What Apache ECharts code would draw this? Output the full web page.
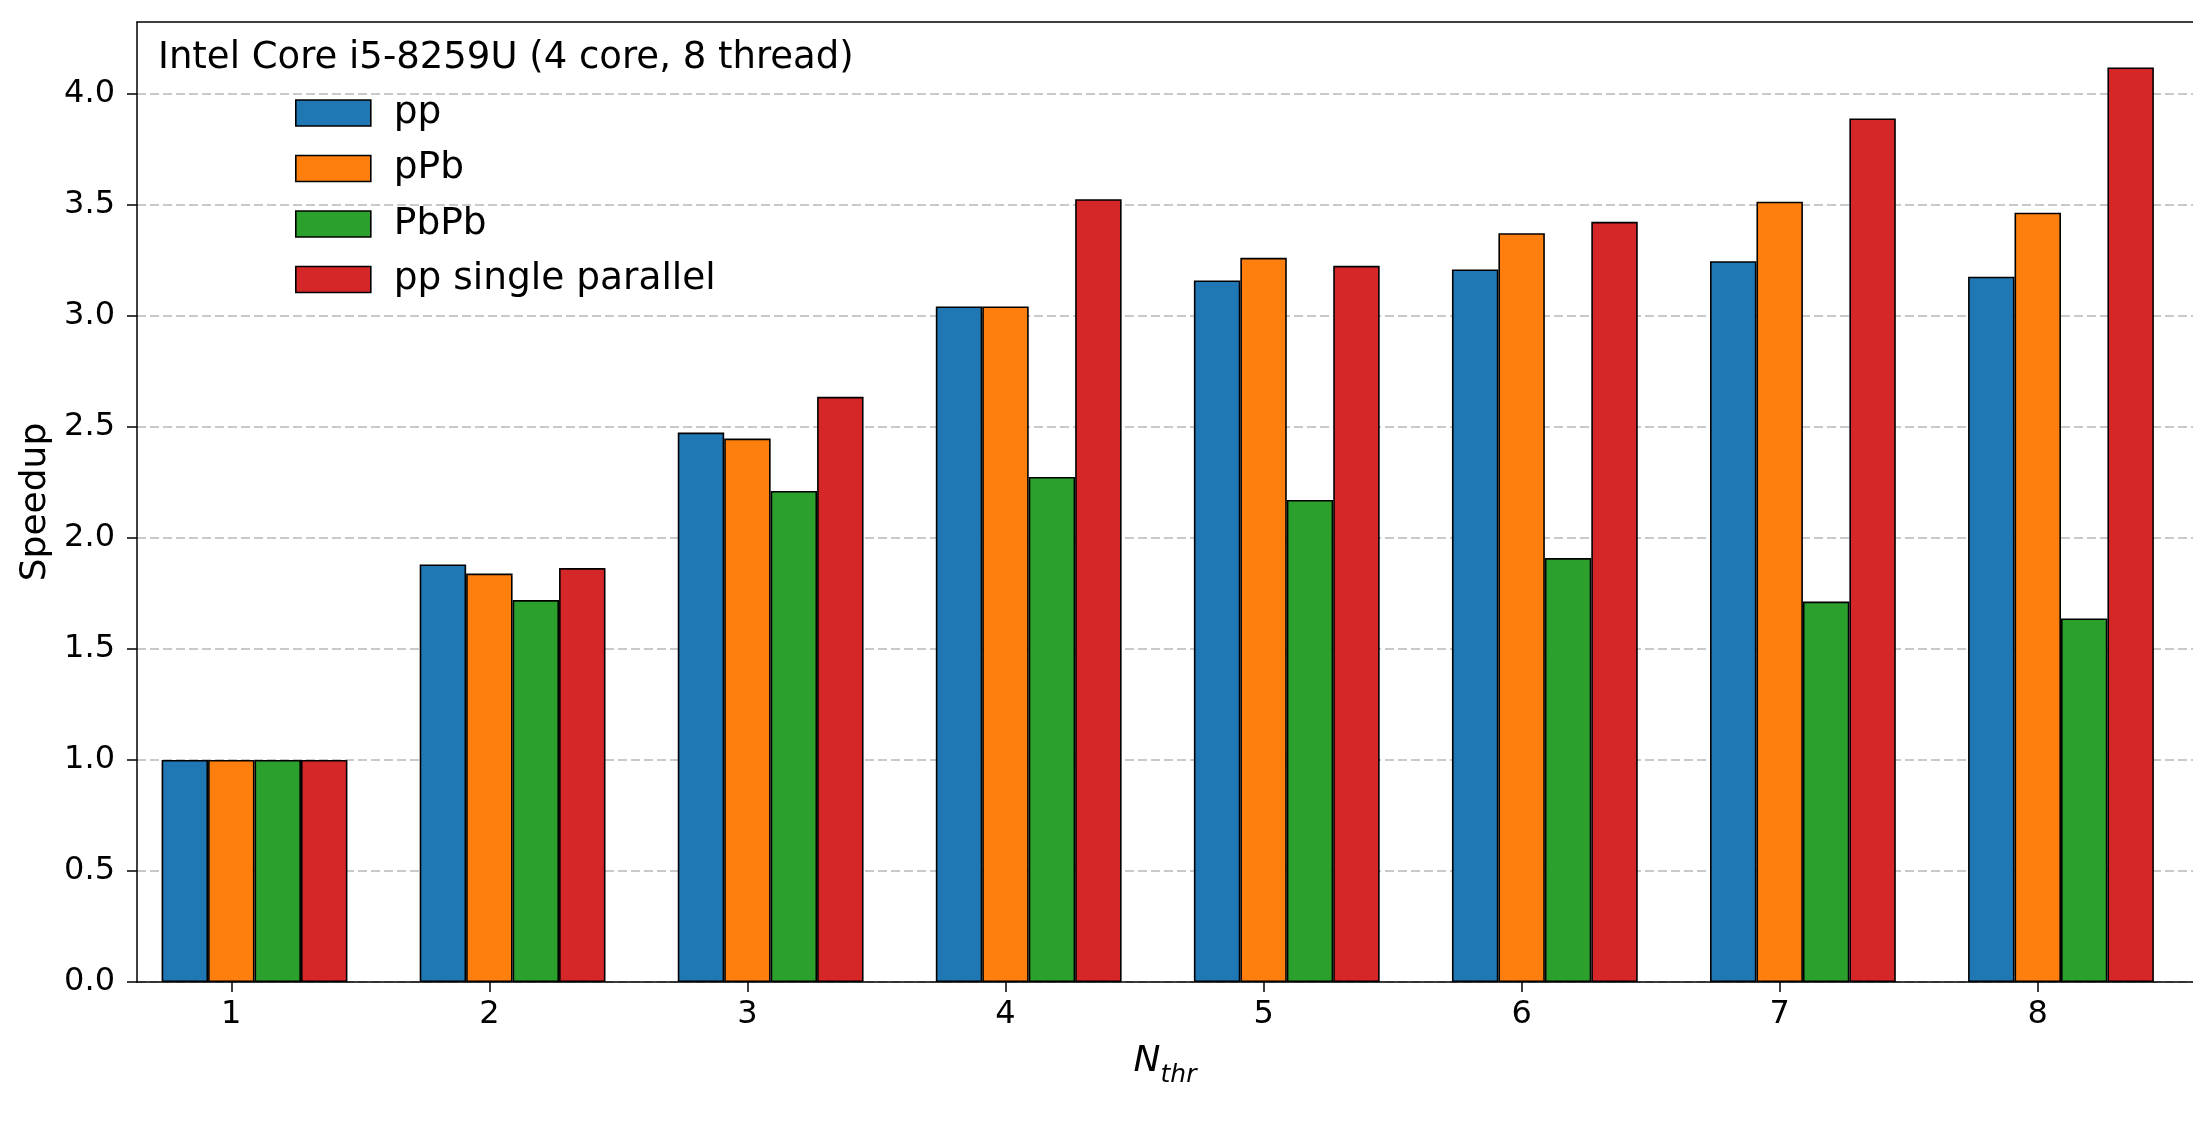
<!DOCTYPE html>
<html>
<head>
<meta charset="utf-8">
<script src="https://cdn.jsdelivr.net/npm/echarts@6/dist/echarts.min.js"></script>
<style>
html,body{margin:0;padding:0;background:#fff;}
#chart{width:2193px;height:1125px;}
</style>
</head>
<body>
<div id="chart"></div>
<script>
// ---- data ----
const THREADS = [1, 2, 3, 4, 5, 6, 7, 8];
const SERIES_NAMES = ['pp', 'pPb', 'PbPb', 'pp single parallel'];
const PP      = [1.0, 1.880, 2.474, 3.042, 3.159, 3.209, 3.246, 3.176];
const PPB     = [1.0, 1.839, 2.447, 3.042, 3.261, 3.372, 3.514, 3.464];
const PBPB    = [1.0, 1.720, 2.211, 2.274, 2.171, 1.909, 1.713, 1.637];
const PP_SP   = [1.0, 1.864, 2.635, 3.525, 3.225, 3.423, 3.889, 4.118];
const Y_TICKS = [0, 0.5, 1.0, 1.5, 2.0, 2.5, 3.0, 3.5, 4.0];
const X_TICKS = THREADS;
const TITLE_TEXT = 'Intel Core i5-8259U (4 core, 8 thread)';

// ---- style ----
const COLORS = ['#1f77b4', '#ff7f0e', '#2ca02c', '#d62728'];
const FONT = 'DejaVu Sans';
const BAR_W = 0.18;              // bar width in axis units
const GROUP_SHIFT = BAR_W / 2;   // 2nd bar centred on the tick (matplotlib offsets)
const X_MIN = 0.6346, X_MAX = 8.6016;
const Y_MIN = 0, Y_MAX = 4.323;

const allValues = [PP, PPB, PBPB, PP_SP];

const series = allValues.map((vals, i) => ({
  name: SERIES_NAMES[i],
  type: 'bar',
  xAxisIndex: 0,
  barWidth: (BAR_W * 100) + '%',
  barGap: '0%',
  data: THREADS.map((t, k) => [t + GROUP_SHIFT, vals[k]]),
  itemStyle: { color: COLORS[i], borderColor: '#000', borderWidth: 1.6 },
  emphasis: { disabled: true },
  animation: false
}));

const chart = echarts.init(document.getElementById('chart'), null, { renderer: 'canvas' });
chart.setOption({
  animation: false,
  backgroundColor: '#fff',
  textStyle: { fontFamily: FONT },
  color: COLORS,
  title: {
    text: TITLE_TEXT,
    left: 158, top: 40, padding: 0,
    textStyle: { fontFamily: FONT, fontSize: 37, fontWeight: 'normal', color: '#000' }
  },
  legend: {
    orient: 'vertical',
    left: 295, top: 94, padding: 0,
    itemWidth: 75, itemHeight: 26, itemGap: 17.5,
    icon: 'rect',
    itemStyle: { borderColor: '#000', borderWidth: 1.6 },
    textStyle: { fontFamily: FONT, fontSize: 37.5, lineHeight: 37.5, color: '#000', padding: [0, 0, 0, 18] },
    data: SERIES_NAMES
  },
  grid: { left: 137, right: 0, top: 22, bottom: 143, containLabel: false },
  xAxis: [{
    type: 'value',
    min: X_MIN, max: X_MAX,
    name: '{n|N}{s|thr}',
    nameLocation: 'middle',
    nameGap: 62,
    nameTextStyle: {
      rich: {
        n: { fontFamily: FONT, fontStyle: 'italic', fontSize: 36, color: '#000', verticalAlign: 'bottom' },
        s: { fontFamily: FONT, fontStyle: 'italic', fontSize: 25, color: '#000', verticalAlign: 'bottom', padding: [0, 0, -8, 0] }
      }
    },
    axisLine: { show: true, onZero: false, lineStyle: { color: '#000', width: 1.5 } },
    axisTick: { show: true, customValues: X_TICKS, length: 10, lineStyle: { color: '#000', width: 1.5 } },
    axisLabel: { show: true, customValues: X_TICKS, margin: 17, fontFamily: FONT, fontSize: 32, color: '#000', formatter: v => String(v) },
    splitLine: { show: false }
  }, {
    type: 'value',
    position: 'top',
    min: X_MIN, max: X_MAX,
    axisLine: { show: true, onZero: false, lineStyle: { color: '#000', width: 1.5 } },
    axisTick: { show: false },
    axisLabel: { show: false },
    splitLine: { show: false }
  }],
  yAxis: {
    type: 'value',
    min: Y_MIN, max: Y_MAX,
    interval: 0.5,
    name: 'Speedup',
    nameLocation: 'middle',
    nameRotate: 90,
    nameGap: 81,
    nameTextStyle: { fontFamily: FONT, fontSize: 36, color: '#000' },
    axisLine: { show: true, lineStyle: { color: '#000', width: 1.5 } },
    axisTick: { show: true, customValues: Y_TICKS, length: 10, lineStyle: { color: '#000', width: 1.5 } },
    axisLabel: { show: true, customValues: Y_TICKS, margin: 22, fontFamily: FONT, fontSize: 32, color: '#000', formatter: v => v.toFixed(1) },
    splitLine: { show: true, lineStyle: { color: '#b8b8b8', width: 1.5, type: [9, 4] } }
  },
  series: series
});
</script>
</body>
</html>
